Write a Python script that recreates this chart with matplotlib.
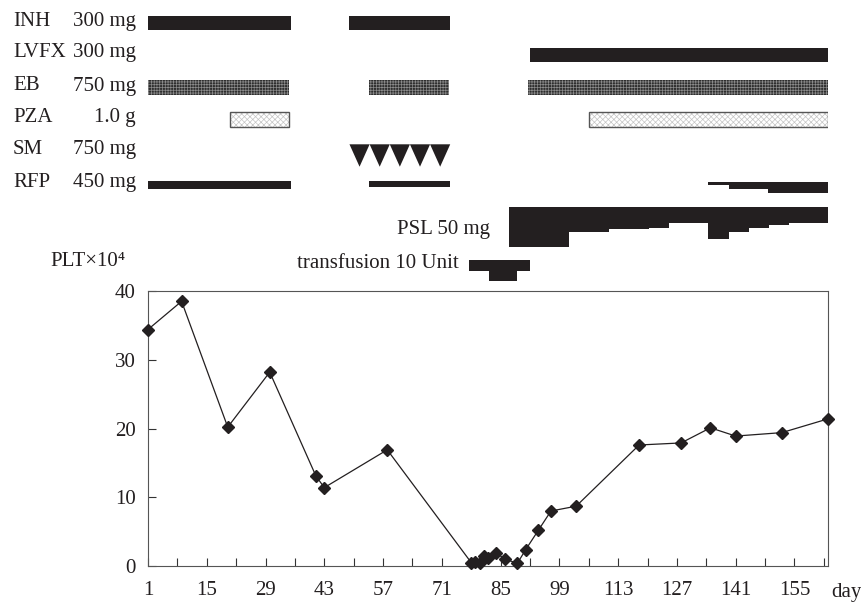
import matplotlib
matplotlib.use('Agg')
import matplotlib.pyplot as plt
from matplotlib.patches import Rectangle, Polygon

plt.rcParams['font.family'] = ['Liberation Serif', 'DejaVu Serif']
plt.rcParams['hatch.linewidth'] = 0.5

# ── 血小板数 (PLT x10^4) ────────────────────────────────
days = [1, 9, 20, 30, 41, 43, 58, 78, 79, 80, 81, 82, 84, 86, 89,
        91, 94, 97, 103, 118, 128, 135, 141, 152, 163]
plt_vals = [34.4, 38.5, 20.2, 28.2, 13.1, 11.4, 16.9, 0.5, 0.6, 0.5, 1.4, 1.1, 1.9, 1.0, 0.4,
            2.4, 5.2, 8.0, 8.7, 17.6, 17.9, 20.1, 18.9, 19.4, 21.4]

xtick_major = [1, 15, 29, 43, 57, 71, 85, 99, 113, 127, 141, 155]
xtick_minor = [8, 22, 36, 50, 64, 78, 92, 106, 120, 134, 148, 162]
ytick_vals = [0, 10, 20, 30, 40]

# ── 投薬期間 (開始日, 終了日) ───────────────────────────
drug_names = ['INH', 'LVFX', 'EB', 'PZA', 'SM', 'RFP']
drug_doses = ['300 mg', '300 mg', '750 mg', '1.0 g', '750 mg', '450 mg']
inh_periods = [(1, 35), (49, 73)]
lvfx_periods = [(92, 163)]
eb_periods = [(1, 34.7), (53.6, 72.6), (91.5, 163)]
pza_periods = [(20.5, 34.7), (106, 163)]
sm_period = (49, 73)
sm_count = 5
rfp_periods = [(1, 35), (53.6, 73)]
rfp_step_edges = [134.5, 139.3, 148.8, 163]
rfp_step_level = [1, 2, 3]

psl_edges = [87, 101.3, 110.9, 120.3, 125.2, 134.5, 139.4, 144.2, 148.9, 153.6, 163]
psl_dose = [50, 31, 28, 26, 20, 40, 32, 27, 23, 20]

trans_edges = [77.5, 82.2, 88.8, 92]
trans_level = [1, 2, 1]

W, H = 862, 606
BLACK = '#231f20'


def fx(x):
    return x / W


def fy(y):
    return 1 - y / H


fig = plt.figure(figsize=(W / 100, H / 100), dpi=100)

# 下段：PLT 折れ線
ax = fig.add_axes([fx(148), fy(566), (828 - 148) / W, (566 - 291) / H])
ax.plot(days, plt_vals, color=BLACK, lw=0.9, marker='D', ms=6,
        markerfacecolor=BLACK, markeredgecolor=BLACK, clip_on=False, zorder=3)
ax.set_xlim(1, 163)
ax.set_ylim(0, 40)
ax.set_xticks(xtick_major)
ax.set_xticks(xtick_minor, minor=True)
ax.set_yticks(ytick_vals)
ax.tick_params(axis='x', which='both', direction='in', length=5.5, width=0.8,
               labelsize=15, pad=11, colors='#333333', labelcolor=BLACK)
ax.tick_params(axis='y', direction='in', length=5.5, width=0.8,
               labelsize=15, pad=9, colors='#333333', labelcolor=BLACK)
for sp in ax.spines.values():
    sp.set_linewidth(0.8)
    sp.set_color('#555555')

fig.text(fx(831), fy(597), 'day', fontsize=15, ha='left', va='baseline', color=BLACK)
fig.text(fx(50), fy(266), 'PLT×10⁴', fontsize=15, ha='left', va='baseline', color=BLACK)

# 上段：投薬チャート（y はピクセル相当）
axd = fig.add_axes([fx(148), 0, (828 - 148) / W, 1])
axd.set_xlim(1, 163)
axd.set_ylim(H, 0)
axd.axis('off')

baselines = [26, 57, 90.5, 121.7, 154, 187.3]
for name, dose, yb in zip(drug_names, drug_doses, baselines):
    fig.text(fx(13), fy(yb), name, fontsize=15, ha='left', va='baseline', color=BLACK)
    fig.text(fx(136), fy(yb), dose, fontsize=15, ha='right', va='baseline', color=BLACK)


def solid(periods, top, h, color=BLACK):
    for a, b in periods:
        axd.add_patch(Rectangle((a, top), b - a, h, facecolor=color, linewidth=0))


solid(inh_periods, 16, 13.7)
solid(lvfx_periods, 48.3, 13.7)

# EB: 網掛け
plt.rcParams['hatch.color'] = '#8c8c8c'
for a, b in eb_periods:
    axd.add_patch(Rectangle((a, 80), b - a, 15, facecolor='#2e2e2e', hatch='++++++', linewidth=0))

# PZA: 薄い点描 + 枠
plt.rcParams['hatch.color'] = '#c4c4c4'
for a, b in pza_periods:
    axd.add_patch(Rectangle((a, 112.3), b - a, 14.4, facecolor='white', hatch='xxxxxx', linewidth=0))
    axd.add_patch(Rectangle((a, 112.3), b - a, 14.4, fill=False, edgecolor='#555555', linewidth=1))

# SM: 三角
tw = (sm_period[1] - sm_period[0]) / sm_count
for i in range(sm_count):
    x0 = sm_period[0] + i * tw
    axd.add_patch(Polygon([(x0, 144.3), (x0 + tw, 144.3), (x0 + tw / 2, 166.7)],
                          closed=True, facecolor=BLACK, linewidth=0))

# RFP
axd.add_patch(Rectangle((rfp_periods[0][0], 181), rfp_periods[0][1] - rfp_periods[0][0], 7.7,
                        facecolor=BLACK, linewidth=0))
axd.add_patch(Rectangle((rfp_periods[1][0], 181), rfp_periods[1][1] - rfp_periods[1][0], 5.7,
                        facecolor=BLACK, linewidth=0))
axd.stairs([181.5 + 3.7 * v for v in rfp_step_level], rfp_step_edges, baseline=181.5,
           fill=True, color=BLACK, linewidth=0)

# PSL 漸減
axd.stairs([206.7 + 0.8 * d for d in psl_dose], psl_edges, baseline=206.7,
           fill=True, color=BLACK, linewidth=0)
fig.text(fx(490), fy(234.3), 'PSL 50 mg', fontsize=15, ha='right', va='baseline', color=BLACK)

# 輸血
axd.stairs([260 + 10.5 * v for v in trans_level], trans_edges, baseline=260,
           fill=True, color=BLACK, linewidth=0)
fig.text(fx(459), fy(268.3), 'transfusion 10 Unit', fontsize=15, ha='right', va='baseline', color=BLACK)

fig.savefig('out.png', dpi=100)
